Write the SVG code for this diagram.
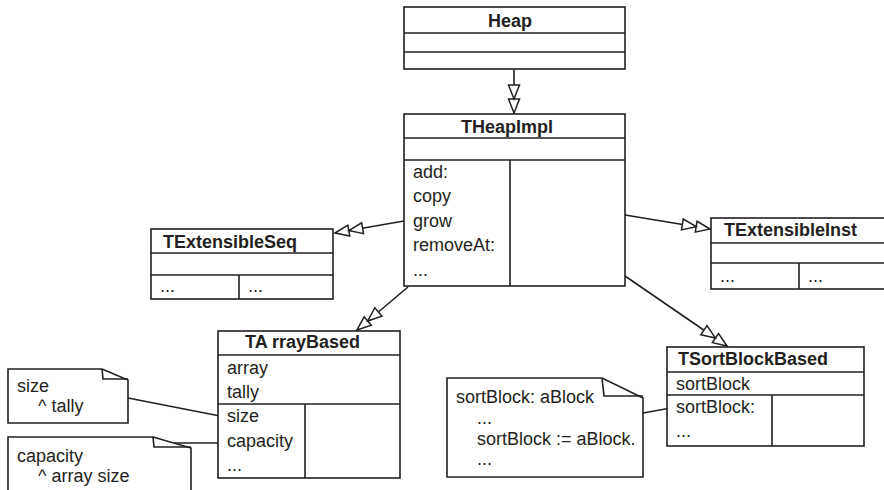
<svg xmlns="http://www.w3.org/2000/svg" width="884" height="490" viewBox="0 0 884 490">
<style>
  .box{fill:#fff;stroke:#231f20;stroke-width:1.6}
  .ln{stroke:#231f20;stroke-width:1.6;fill:none}
  .t{font-family:"Liberation Sans",Arial,sans-serif;font-size:18px;fill:#231f20}
  .b{font-weight:bold}
</style>
<defs>
  <marker id="gen" markerUnits="userSpaceOnUse" viewBox="-30 -8 32 16" markerWidth="32" markerHeight="16" refX="0" refY="0" orient="auto" overflow="visible">
    <path d="M0,0 L-14,-5.5 L-14,5.5 Z M-14,0 L-28,-5.5 L-28,5.5 Z" fill="#fff" stroke="#231f20" stroke-width="1.5" stroke-linejoin="miter"/>
  </marker>
</defs>
<rect width="884" height="490" fill="#fff"/>

<g id="connectors">
  <line class="ln" x1="514" y1="69" x2="514" y2="113" marker-end="url(#gen)"/>
  <line class="ln" x1="404" y1="221" x2="335" y2="233" marker-end="url(#gen)"/>
  <line class="ln" x1="625" y1="215" x2="710" y2="229" marker-end="url(#gen)"/>
  <line class="ln" x1="408" y1="287" x2="357" y2="330" marker-end="url(#gen)"/>
  <line class="ln" x1="625" y1="276" x2="727" y2="346" marker-end="url(#gen)"/>
  <line class="ln" x1="128" y1="398" x2="220" y2="416"/>
  <line class="ln" x1="174" y1="443" x2="220" y2="443"/>
  <line class="ln" x1="643" y1="413" x2="671" y2="408"/>
</g>

<g id="Heap">
  <rect class="box" x="404" y="7" width="221" height="62"/>
  <line class="ln" x1="404" y1="33" x2="625" y2="33"/>
  <line class="ln" x1="404" y1="52" x2="625" y2="52"/>
  <text class="t b" x="488" y="27">Heap</text>
</g>

<g id="THeapImpl">
  <rect class="box" x="404" y="114" width="221" height="172"/>
  <line class="ln" x1="404" y1="138" x2="625" y2="138"/>
  <line class="ln" x1="404" y1="160" x2="625" y2="160"/>
  <line class="ln" x1="510" y1="160" x2="510" y2="286"/>
  <text class="t b" x="461" y="133">THeapImpl</text>
  <text class="t" x="413" y="178">add:</text>
  <text class="t" x="413" y="202">copy</text>
  <text class="t" x="413" y="227">grow</text>
  <text class="t" x="413" y="251">removeAt:</text>
  <text class="t" x="413" y="276">...</text>
</g>

<g id="TExtensibleSeq">
  <rect class="box" x="151" y="229" width="182" height="70"/>
  <line class="ln" x1="151" y1="253" x2="333" y2="253"/>
  <line class="ln" x1="151" y1="275" x2="333" y2="275"/>
  <line class="ln" x1="239" y1="275" x2="239" y2="299"/>
  <text class="t b" x="163" y="248">TExtensibleSeq</text>
  <text class="t" x="160" y="292">...</text>
  <text class="t" x="248" y="292">...</text>
</g>

<g id="TExtensibleInst">
  <rect class="box" x="711" y="218" width="176" height="71"/>
  <line class="ln" x1="711" y1="243" x2="887" y2="243"/>
  <line class="ln" x1="711" y1="263" x2="887" y2="263"/>
  <line class="ln" x1="799" y1="263" x2="799" y2="289"/>
  <text class="t b" x="724" y="236">TExtensibleInst</text>
  <text class="t" x="720" y="282">...</text>
  <text class="t" x="808" y="282">...</text>
</g>

<g id="TArrayBased">
  <rect class="box" x="218" y="331" width="182" height="147"/>
  <line class="ln" x1="218" y1="355" x2="400" y2="355"/>
  <line class="ln" x1="218" y1="404" x2="400" y2="404"/>
  <line class="ln" x1="305" y1="404" x2="305" y2="478"/>
  <text class="t b" x="245" y="348">TA rrayBased</text>
  <text class="t" x="227" y="374">array</text>
  <text class="t" x="227" y="398">tally</text>
  <text class="t" x="227" y="422">size</text>
  <text class="t" x="227" y="447">capacity</text>
  <text class="t" x="227" y="471">...</text>
</g>

<g id="TSortBlockBased">
  <rect class="box" x="667" y="347" width="197" height="99"/>
  <line class="ln" x1="667" y1="372" x2="864" y2="372"/>
  <line class="ln" x1="667" y1="395" x2="864" y2="395"/>
  <line class="ln" x1="772" y1="395" x2="772" y2="446"/>
  <text class="t b" x="678" y="365">TSortBlockBased</text>
  <text class="t" x="676" y="390">sortBlock</text>
  <text class="t" x="676" y="413">sortBlock:</text>
  <text class="t" x="676" y="437">...</text>
</g>

<g id="note-size">
  <path class="box" d="M8,369 H102 L128,380 V423 H8 Z"/>
  <path class="ln" d="M102,369 L103,379 H128"/>
  <text class="t" x="17" y="392">size</text>
  <text class="t" x="38" y="412">^ tally</text>
</g>

<g id="note-capacity">
  <path class="box" d="M8,437 H153 L191,448 V496 H8 Z"/>
  <path class="ln" d="M153,437 L154,447 H191"/>
  <text class="t" x="17" y="462">capacity</text>
  <text class="t" x="38" y="482">^ array size</text>
</g>

<g id="note-sortBlock">
  <path class="box" d="M447,378 H602 L643,398 V477 H447 Z"/>
  <path class="ln" d="M602,378 L604,396 H643"/>
  <text class="t" x="456" y="403">sortBlock: aBlock</text>
  <text class="t" x="477" y="424">...</text>
  <text class="t" x="477" y="445">sortBlock := aBlock.</text>
  <text class="t" x="477" y="465">...</text>
</g>
</svg>
